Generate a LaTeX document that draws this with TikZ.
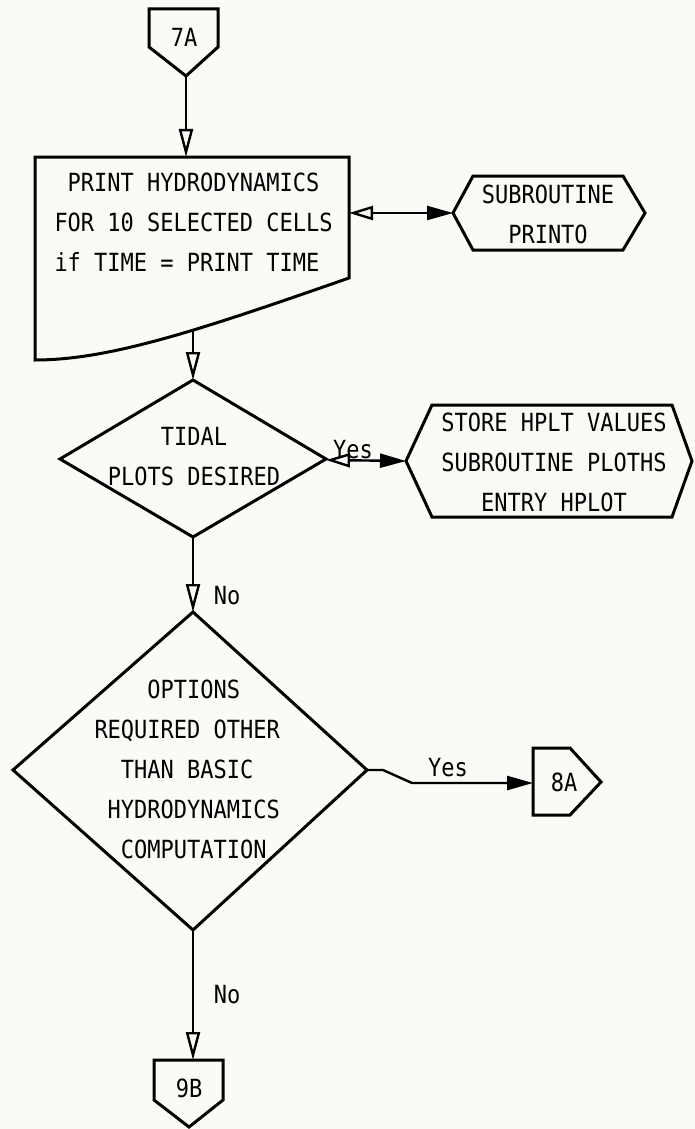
\documentclass[tikz,border=0pt]{standalone}
\usepackage{fontspec}
\newfontfamily\flowfont[FakeStretch=0.88]{DejaVu Sans Mono}
\usetikzlibrary{arrows.meta}
\newlength{\du}
\setlength{\du}{0.5pt}
\tikzset{
  flowtext/.style={font=\flowfont\fontsize{12.5}{20}\selectfont, inner sep=0pt, align=center},
  flowline/.style={line width=2.4\du},
  openhead/.style={flowline, -{Triangle[open,length=14pt,width=7pt]}},
  twohead/.style={flowline, {Triangle[open,length=12pt,width=7pt]}-{Triangle[length=13pt,width=7pt]}},
  fullhead/.style={flowline, -{Triangle[length=13pt,width=7pt]}}
}

\begin{document}
\begin{tikzpicture}
\pgftransformxscale{1.000000}
\pgftransformyscale{-1.000000}
\definecolor{dialinecolor}{rgb}{0.980000, 0.980000, 0.970000}
\pgfsetfillcolor{dialinecolor}
\fill (0\du,0\du) rectangle (695\du,1129\du);
\useasboundingbox (0\du,0\du) rectangle (695\du,1129\du);
\definecolor{dialinecolor}{rgb}{0.000000, 0.000000, 0.000000}
\pgfsetstrokecolor{dialinecolor}
\pgfsetlinewidth{3.000000\du}
\pgfsetdash{}{0pt}
\pgfsetmiterjoin
\pgfsetbuttcap
% off-page connector 7A
\draw (149\du,9\du)--(218\du,9\du)--(218\du,47\du)--(186\du,76\du)--(149\du,47\du)--cycle;
\node[flowtext] (t7A) at (184\du,37\du) {7A};
\coordinate (out7A) at (186\du,76\du);
% print document
\draw (35\du,157\du)--(349\du,157\du)--(349\du,278\du) .. controls (200\du,330\du) and (110\du,360\du) .. (35\du,360\du)--cycle;
\node[flowtext, align=left, anchor=west] (tprint) at (53\du,222\du) {\hphantom{O}PRINT HYDRODYNAMICS\\FOR 10 SELECTED CELLS\\if TIME = PRINT TIME};
\coordinate (inprint) at (186\du,157\du);
\coordinate (outprint) at (193\du,330\du);
\coordinate (sideprint) at (349\du,213\du);
% subroutine PRINTO
\draw (453\du,213\du)--(473\du,176\du)--(623\du,176\du)--(645\du,213\du)--(623\du,250\du)--(473\du,250\du)--cycle;
\node[flowtext] (tprinto) at (548\du,214\du) {SUBROUTINE\\PRINTO};
\coordinate (inprinto) at (453\du,213\du);
% decision tidal plots
\draw (193\du,380\du)--(326\du,459\du)--(193\du,537\du)--(60\du,459\du)--cycle;
\node[flowtext] (ttidal) at (194\du,457\du) {TIDAL\\PLOTS DESIRED};
\coordinate (intidal) at (193\du,380\du);
\coordinate (yestidal) at (326\du,460\du);
\coordinate (notidal) at (193\du,537\du);
% subroutine PLOTHS
\draw (406\du,461\du)--(432\du,405\du)--(672\du,405\du)--(692\du,461\du)--(672\du,517\du)--(432\du,517\du)--cycle;
\node[flowtext] (tploths) at (554\du,462\du) {STORE HPLT VALUES\\SUBROUTINE PLOTHS\\ENTRY HPLOT};
\coordinate (inploths) at (406\du,461\du);
% decision options
\draw (193\du,612\du)--(367\du,770\du)--(193\du,930\du)--(13\du,770\du)--cycle;
\node[flowtext, align=left, anchor=west] (toptions) at (93\du,769\du) {\hphantom{OOOO}OPTIONS\\REQUIRED OTHER\\\hphantom{OO}THAN BASIC\\\hphantom{O}HYDRODYNAMICS\\\hphantom{OO}COMPUTATION};
\coordinate (inoptions) at (193\du,612\du);
\coordinate (yesoptions) at (367\du,770\du);
\coordinate (nooptions) at (193\du,930\du);
\coordinate (bendA) at (383\du,770\du);
\coordinate (bendB) at (412\du,783\du);
% off-page connector 8A
\draw (533\du,748\du)--(570\du,748\du)--(601\du,782\du)--(570\du,815\du)--(533\du,815\du)--cycle;
\node[flowtext] (t8A) at (564\du,782\du) {8A};
\coordinate (in8A) at (533\du,783\du);
% off-page connector 9B
\draw (154\du,1060\du)--(223\du,1060\du)--(223\du,1100\du)--(189\du,1127\du)--(154\du,1100\du)--cycle;
\node[flowtext] (t9B) at (189\du,1088\du) {9B};
\coordinate (in9B) at (193\du,1060\du);
% flow lines
\draw[openhead] (out7A)--(inprint);
\draw[twohead] (sideprint)--(inprinto);
\draw[openhead] (outprint)--(intidal);
\draw[twohead] (yestidal)--(inploths);
\node[flowtext] (lyes1) at (353\du,450\du) {Yes};
\draw[openhead] (notidal)--(inoptions);
\node[flowtext] (lno1) at (227\du,596\du) {No};
\draw[fullhead] (yesoptions)--(bendA)--(bendB)--(in8A);
\node[flowtext] (lyes2) at (448\du,768\du) {Yes};
\draw[openhead] (nooptions)--(in9B);
\node[flowtext] (lno2) at (227\du,995\du) {No};
\end{tikzpicture}
\end{document}
